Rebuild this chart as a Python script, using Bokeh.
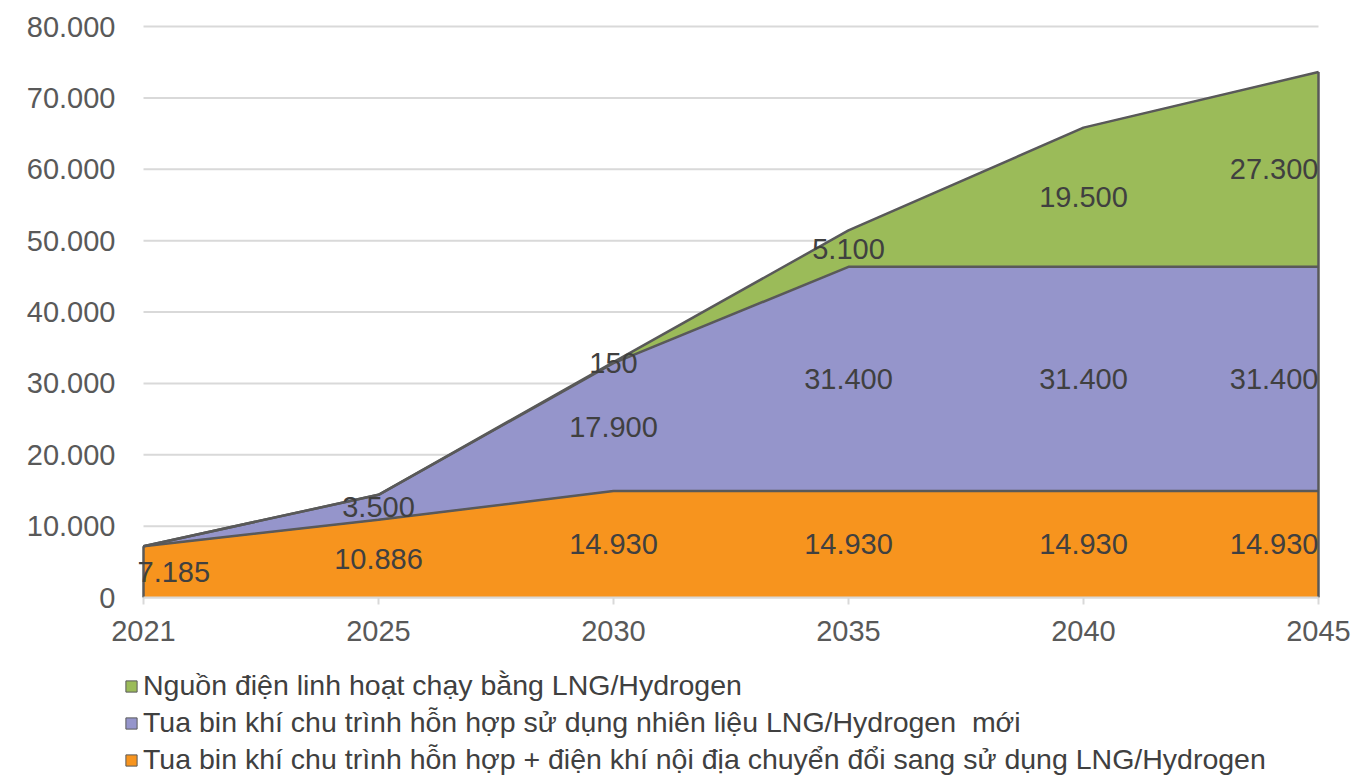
import numpy as np
from bokeh.plotting import figure
from bokeh.models import FixedTicker, Legend, LegendItem, ColumnDataSource
from bokeh.core.properties import value
from bokeh.embed import file_html
from bokeh.resources import INLINE

# ---------------- data ----------------
years = ["2021", "2025", "2030", "2035", "2040", "2045"]
converted = [7185, 10886, 14930, 14930, 14930, 14930]      # orange
new_ccgt = [0, 3500, 17900, 31400, 31400, 31400]            # purple
flexible = [0, 0, 150, 5100, 19500, 27300]                  # green
series_names = [
    "Nguồn điện linh hoạt chạy bằng LNG/Hydrogen",
    "Tua bin khí chu trình hỗn hợp sử dụng nhiên liệu LNG/Hydrogen  mới",
    "Tua bin khí chu trình hỗn hợp + điện khí nội địa chuyển đổi sang sử dụng LNG/Hydrogen",
]
y_ticks = [0, 10000, 20000, 30000, 40000, 50000, 60000, 70000, 80000]
y_tick_labels = ["0", "10.000", "20.000", "30.000", "40.000", "50.000", "60.000", "70.000", "80.000"]

FONT = "Liberation Sans"
C_GREEN = "#9BBB59"
C_PURPLE = "#9595CB"
C_ORANGE = "#F7941E"
EDGE = "#595959"
TXT = "#404040"
GRID = "#D9D9D9"

# ---------------- layout (pixels) ----------------
W, H = 1360, 776
X0_PX, X1_PX = 143, 1318        # first / last category
Y0_PX, YTOP_PX = 597, 26        # zero / top tick
n = len(years)
px_per_x = (X1_PX - X0_PX) / (n - 1)
px_per_y = (Y0_PX - YTOP_PX) / y_ticks[-1]
x_start = -X0_PX / px_per_x
x_end = (n - 1) + (W - X1_PX) / px_per_x
y_start = -(H - Y0_PX) / px_per_y
y_end = y_ticks[-1] + YTOP_PX / px_per_y

x = np.arange(n)
s0 = np.zeros(n)
s1 = s0 + np.array(converted)
s2 = s1 + np.array(new_ccgt)
s3 = s2 + np.array(flexible)

p = figure(width=W, height=H, x_range=(x_start, x_end), y_range=(y_start, y_end),
           output_backend="svg", toolbar_location=None,
           min_border_left=0, min_border_right=0, min_border_top=0, min_border_bottom=0)
p.outline_line_color = None
p.background_fill_color = "white"
p.xgrid.grid_line_color = None
p.ygrid.grid_line_color = None

# horizontal grid lines spanning the category extent
p.segment(x0=[x[0]] * len(y_ticks), x1=[x[-1]] * len(y_ticks), y0=y_ticks, y1=y_ticks,
          line_color=GRID, line_width=2)

# y axis (fixed at first category)
p.yaxis.fixed_location = 0
p.yaxis.bounds = (0, y_ticks[-1])
p.yaxis.ticker = FixedTicker(ticks=y_ticks)
p.yaxis.major_label_overrides = {t: l for t, l in zip(y_ticks, y_tick_labels)}
p.yaxis.axis_line_color = None
p.yaxis.major_tick_line_color = None
p.yaxis.major_tick_out = 0
p.yaxis.major_tick_in = 0
p.yaxis.minor_tick_line_color = None
p.yaxis.major_label_standoff = 28
p.yaxis.major_label_text_font = FONT
p.yaxis.major_label_text_font_size = "29px"
p.yaxis.major_label_text_color = "#595959"

# x axis, drawn at y = 0
p.xaxis.fixed_location = 0
p.xaxis.bounds = (0, n - 1)
p.xaxis.ticker = FixedTicker(ticks=list(x))
p.xaxis.major_label_overrides = {int(i): y for i, y in zip(x, years)}
p.xaxis.axis_line_color = GRID
p.xaxis.axis_line_width = 2
p.xaxis.major_tick_line_color = GRID
p.xaxis.major_tick_line_width = 2
p.xaxis.major_tick_out = 7
p.xaxis.major_tick_in = 0
p.xaxis.minor_tick_line_color = None
p.xaxis.major_label_standoff = 16
p.xaxis.major_label_text_font = FONT
p.xaxis.major_label_text_font_size = "29px"
p.xaxis.major_label_text_color = "#595959"

# areas
renderers = []
for lo, hi, col in [(s0, s1, C_ORANGE), (s1, s2, C_PURPLE), (s2, s3, C_GREEN)]:
    xs = np.concatenate([x, x[::-1]])
    ys = np.concatenate([hi, lo[::-1]])
    r = p.patch(xs, ys, fill_color=col, line_color=EDGE, line_width=1)
    renderers.append(r)

# outlines (tops and side edges)
for lo, hi in [(s0, s1), (s1, s2), (s2, s3)]:
    p.line(x, hi, line_color=EDGE, line_width=2.5)
p.segment(x0=[x[0], x[-1]], y0=[0, 0], x1=[x[0], x[-1]], y1=[s3[0], s3[-1]],
          line_color=EDGE, line_width=2.5)

# data labels
lx, ly, lt, la, lo_ = [], [], [], [], []
for base, vals in [(s0, converted), (s1, new_ccgt), (s2, flexible)]:
    for i, v in enumerate(vals):
        if v == 0:
            continue
        lx.append(x[i])
        ly.append(base[i] + v / 2)
        lt.append(f"{v:,}".replace(",", "."))
        if i == 0:
            la.append("left"); lo_.append(-6)
        elif i == len(vals) - 1:
            la.append("right"); lo_.append(0)
        else:
            la.append("center"); lo_.append(0)
src = ColumnDataSource(dict(x=lx, y=ly, t=lt, a=la, o=lo_))
p.text(x="x", y="y", text="t", source=src, text_align="a", x_offset="o",
       text_baseline="middle", text_font=value(FONT), text_font_size="29px",
       text_color=TXT)

# legend (inside the full-size frame, below the x axis)
items = [LegendItem(label=series_names[0], renderers=[renderers[2]]),
         LegendItem(label=series_names[1], renderers=[renderers[1]]),
         LegendItem(label=series_names[2], renderers=[renderers[0]])]
legend = Legend(items=items, location=(124, -2), orientation="vertical",
                padding=0, margin=0, spacing=0, label_height=37,
                glyph_width=14, glyph_height=14, label_standoff=5,
                label_text_font=FONT, label_text_font_size="28.5px",
                label_text_color=TXT, background_fill_alpha=0,
                border_line_color=None)
p.add_layout(legend, "center")

open("out.html", "w").write(file_html(p, INLINE))
